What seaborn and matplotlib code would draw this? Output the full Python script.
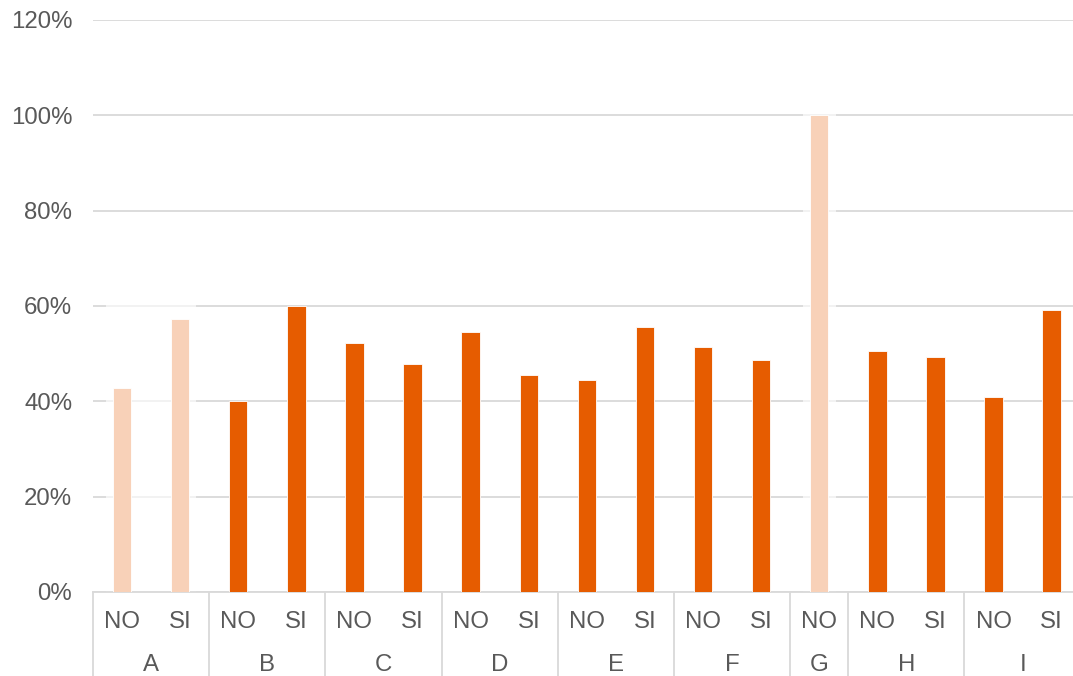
import matplotlib
matplotlib.use("Agg")
import matplotlib.pyplot as plt
import matplotlib.transforms as mtransforms
import seaborn as sns
import pandas as pd

groups = ["A", "A", "B", "B", "C", "C", "D", "D", "E", "E", "F", "F", "G", "H", "H", "I", "I"]
answers = ["NO", "SI", "NO", "SI", "NO", "SI", "NO", "SI", "NO", "SI", "NO", "SI", "NO", "NO", "SI", "NO", "SI"]
values = [42.8, 57.2, 40.0, 60.0, 52.3, 47.8, 54.5, 45.5, 44.5, 55.5, 51.4, 48.6, 100.0, 50.6, 49.4, 40.9, 59.2]
dimmed_groups = ["A", "G"]

DARK = "#E65C00"
LIGHT = "#F8D1B8"
GRID = "#D9D9D9"
TXT = "#595959"
FS = 17.3

sns.set_theme(style="white")
plt.rcParams["font.family"] = ["Liberation Sans", "DejaVu Sans"]

slots = [f"{g}-{a}-{i}" for i, (g, a) in enumerate(zip(groups, answers))]
df = pd.DataFrame({"slot": slots, "group": groups, "answer": answers, "value": values})
palette = {s: (LIGHT if g in dimmed_groups else DARK) for s, g in zip(slots, groups)}

fig = plt.figure(figsize=(10.73, 6.76), dpi=100)
W, H = 1073, 676
ax = fig.add_axes([93 / W, (H - 592) / H, (W - 93) / W, (592 - 20) / H])

sns.barplot(data=df, x="slot", y="value", hue="slot", palette=palette, order=slots,
            width=0.315, legend=False, ax=ax, edgecolor="white", linewidth=0.6,
            zorder=3, saturation=1)

ax.set_ylim(0, 120)
slot_w = 58.1
ax.set_xlim(-0.5, -0.5 + (W - 93) / slot_w)
ax.set_yticks(range(0, 121, 20))
ax.set_yticklabels([f"{v}%" for v in range(0, 121, 20)])
ax.tick_params(axis="y", length=0, pad=15, labelsize=FS, labelcolor=TXT)
ax.set_xticks([])
ax.set_xlabel("")
ax.set_ylabel("")
ax.yaxis.grid(True, color=GRID, linewidth=1.3, zorder=0)
ax.set_axisbelow(True)
for s in ["left", "right", "top"]:
    ax.spines[s].set_visible(False)
ax.spines["bottom"].set_color(GRID)
ax.spines["bottom"].set_linewidth(1.3)

# dimming overlay behind the highlighted-out groups
idx = list(range(len(slots)))
for g in dimmed_groups:
    pos = [i for i in idx if groups[i] == g]
    top = max(values[i] for i in pos) + 5
    ax.add_patch(plt.Rectangle((pos[0] - 0.28, 0), pos[-1] - pos[0] + 0.56, top,
                               facecolor="white", alpha=0.66, edgecolor="none", zorder=1))

trans = mtransforms.blended_transform_factory(ax.transData, ax.transAxes)
ax_h = 592 - 20
y1 = -(621.5 - 592) / ax_h
y2 = -(665 - 592) / ax_h
ybot = -(H - 592) / ax_h

for i, a in enumerate(answers):
    ax.text(i, y1, a, transform=trans, ha="center", va="center", fontsize=FS, color=TXT)

# group labels and separators
boundaries = [-0.5]
uniq = []
for i, g in enumerate(groups):
    if not uniq or uniq[-1][0] != g:
        uniq.append([g, i, i])
    else:
        uniq[-1][2] = i
for g, s, e in uniq:
    ax.text((s + e) / 2, y2, g, transform=trans, ha="center", va="center", fontsize=FS, color=TXT)
    boundaries.append(e + 0.5)
for b in boundaries:
    ax.plot([b, b], [0, ybot], transform=trans, color=GRID, linewidth=1.3, clip_on=False, zorder=2)

fig.savefig("out.png", dpi=100)
